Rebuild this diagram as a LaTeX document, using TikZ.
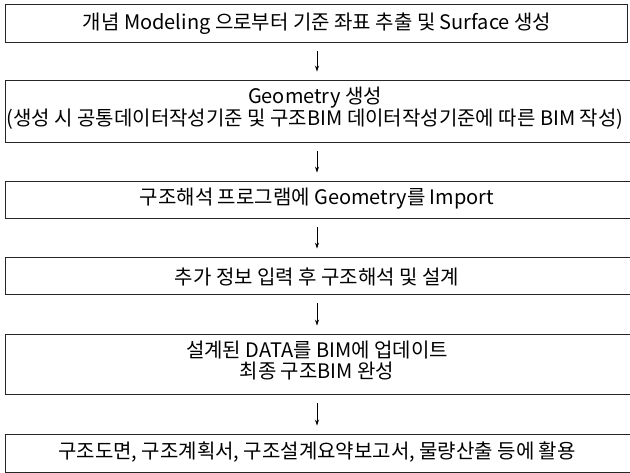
\documentclass[tikz,border=0pt]{standalone}
\usepackage{fontspec}
\setmainfont{Noto Sans CJK KR}
\usetikzlibrary{arrows.meta}
\begin{document}
\begin{tikzpicture}[x=1pt,y=-1pt,
  box/.style={draw=black!85, line width=0.9pt, inner sep=0pt},
  txt/.style={font=\fontsize{20}{21}\selectfont, align=center, inner sep=0pt, text=black},
  arr/.style={-{Stealth[length=6pt,width=4pt]}, line width=0.8pt, shorten <=9pt, shorten >=8pt}]
\useasboundingbox (0,0) rectangle (630,473);
\clip (0,0) rectangle (630,473);
\node[box, minimum width=622pt, minimum height=38pt] (b1) at (316,23) {};
\node[box, minimum width=635pt, minimum height=62pt] (b2) at (322.5,111) {};
\node[box, minimum width=635pt, minimum height=37pt] (b3) at (322.5,199.5) {};
\node[box, minimum width=635pt, minimum height=37pt] (b4) at (322.5,275.5) {};
\node[box, minimum width=635pt, minimum height=60pt] (b5) at (322.5,364) {};
\node[box, minimum width=635pt, minimum height=38pt] (b6) at (322.5,453) {};
\node[txt] (t1) at (317,24) {개념 Modeling 으로부터 기준 좌표 추출 및 Surface 생성};
\node[txt] (t2) at (315,108) {Geometry 생성\\(생성 시 공통데이터작성기준 및 구조BIM 데이터작성기준에 따른 BIM 작성)};
\node[txt] (t3) at (317,199) {구조해석 프로그램에 Geometry를 Import};
\node[txt] (t4) at (317,277) {추가 정보 입력 후 구조해석 및 설계};
\node[txt] (t5) at (317,361) {설계된 DATA를 BIM에 업데이트\\최종 구조BIM 완성};
\node[txt] (t6) at (317,452) {구조도면, 구조계획서, 구조설계요약보고서, 물량산출 등에 활용};
\draw[arr] (t1 |- b1.south) -- (t1 |- b2.north);
\draw[arr] (t1 |- b2.south) -- (t1 |- b3.north);
\draw[arr] (t1 |- b3.south) -- (t1 |- b4.north);
\draw[arr] (t1 |- b4.south) -- (t1 |- b5.north);
\draw[arr] (t1 |- b5.south) -- (t1 |- b6.north);
\end{tikzpicture}
\end{document}
